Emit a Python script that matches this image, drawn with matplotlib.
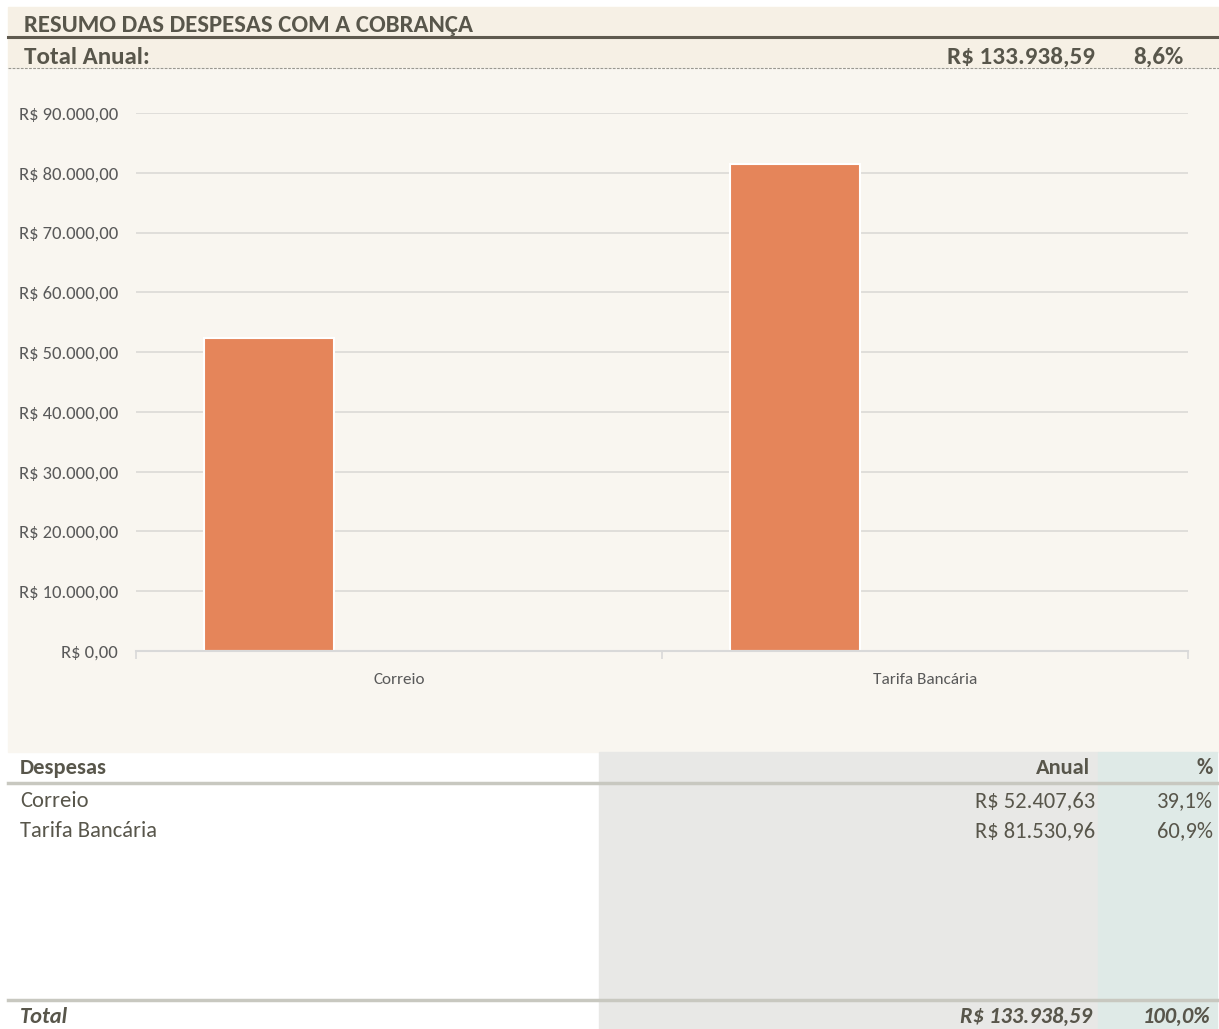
import matplotlib.pyplot as plt
from matplotlib.patches import Rectangle
from matplotlib.ticker import FuncFormatter, MultipleLocator

# data
categories = ['Correio', 'Tarifa Bancária']
despesas = [52407.63, 81530.96]
serie_2 = [0, 0]
serie_3 = [0, 0]
percentuais = ['39,1%', '60,9%']
anual_labels = ['R$ 52.407,63', 'R$ 81.530,96']
total_anual = 'R$ 133.938,59'
total_pct_header = '8,6%'
total_pct = '100,0%'

W, H = 1219, 1029
plt.rcParams['font.family'] = ['Carlito', 'Open Sans Condensed', 'DejaVu Sans']

txt = '#58564b'
fig = plt.figure(figsize=(W / 100, H / 100), dpi=100)
fig.patch.set_facecolor('white')

# background layer in pixel coordinates
bg = fig.add_axes([0, 0, 1, 1])
bg.set_xlim(0, W)
bg.set_ylim(H, 0)
bg.axis('off')

bg.add_patch(Rectangle((8, 7), W - 8, 61, color='#f6f0e5', zorder=0))
bg.add_patch(Rectangle((8, 68), W - 8, 684, color='#f9f6f0', zorder=0))
bg.add_patch(Rectangle((599, 752), 499, H - 752, color='#e8e8e6', zorder=0))
bg.add_patch(Rectangle((1098, 752), 119, H - 752, color='#dfeae7', zorder=0))

bg.plot([8, W], [37, 37], color='#5f5a4f', lw=2.2, zorder=1)
bg.plot([8, W], [68, 68], color='#9a9890', lw=0.8, ls=(0, (2.5, 1.2)), zorder=1)
bg.plot([8, W], [782.5, 782.5], color='#c8c8c0', lw=2.5, zorder=1)
bg.plot([8, W], [999.5, 999.5], color='#c8c8c0', lw=2.5, zorder=1)

bg.text(24, 25, 'RESUMO DAS DESPESAS COM A COBRANÇA', fontsize=17.8, fontweight='bold',
        color=txt, va='center', ha='left')
bg.text(24, 57, 'Total Anual:', fontsize=18, fontweight='bold', color=txt, va='center')
bg.text(1095, 57, total_anual, fontsize=18, fontweight='bold', color=txt, va='center', ha='right')
bg.text(1183, 57, total_pct_header, fontsize=18, fontweight='bold', color=txt, va='center', ha='right')

bg.text(20, 768, 'Despesas', fontsize=16.2, fontweight='bold', color=txt, va='center')
bg.text(1090, 768, 'Anual', fontsize=16.2, fontweight='bold', color=txt, va='center', ha='right')
bg.text(1213, 768, '%', fontsize=16.2, fontweight='bold', color=txt, va='center', ha='right')

for i, cat in enumerate(categories):
    y = 801 + i * 30
    bg.text(20, y, cat, fontsize=16.2, color=txt, va='center')
    bg.text(1095, y, anual_labels[i], fontsize=16.2, color=txt, va='center', ha='right')
    bg.text(1213, y, percentuais[i], fontsize=16.2, color=txt, va='center', ha='right')

bg.text(20, 1017, 'Total', fontsize=16.2, fontweight='bold', style='italic', color=txt, va='center')
bg.text(1092, 1017, total_anual, fontsize=16.2, fontweight='bold', style='italic',
        color=txt, va='center', ha='right')
bg.text(1210, 1017, total_pct, fontsize=16.2, fontweight='bold', style='italic',
        color=txt, va='center', ha='right')

# bar chart
ax = fig.add_axes([136 / W, (H - 651) / H, (1188 - 136) / W, (651 - 113) / H])
ax.set_facecolor('none')
x = list(range(len(categories)))
bw = 0.247
ax.bar([i - bw for i in x], despesas, width=bw, color='#e5855a', edgecolor='white', lw=1.5, zorder=3)
ax.bar(x, serie_2, width=bw, color='#a5a5a5', edgecolor='white', lw=1.5, zorder=3)
ax.bar([i + bw for i in x], serie_3, width=bw, color='#ffc000', edgecolor='white', lw=1.5, zorder=3)

ax.set_xlim(-0.5, len(categories) - 0.5)
ax.set_ylim(0, 90000)
ax.yaxis.set_major_locator(MultipleLocator(10000))


def reais(v, pos):
    s = f'{v:,.2f}'.replace(',', 'X').replace('.', ',').replace('X', '.')
    return 'R$ ' + s


ax.yaxis.set_major_formatter(FuncFormatter(reais))
ax.grid(axis='y', color='#dedcd8', lw=1.3, zorder=0)
for s in ['top', 'right', 'left']:
    ax.spines[s].set_visible(False)
ax.spines['bottom'].set_color('#d9d9d9')
ax.spines['bottom'].set_linewidth(1.5)
ax.spines['bottom'].set_zorder(4)
ax.tick_params(axis='y', length=0, pad=13, labelsize=13.3, labelcolor='#595959')
ax.set_xticks(x)
ax.set_xticklabels(categories)
ax.tick_params(axis='x', length=0, pad=15.5, labelsize=12.3, labelcolor='#595959')
ax.set_xticks([-0.5, 0.5, 1.5], minor=True)
ax.tick_params(axis='x', which='minor', length=6, width=1.2, color='#d9d9d9')

plt.savefig('out.png', dpi=100, facecolor=fig.get_facecolor())
